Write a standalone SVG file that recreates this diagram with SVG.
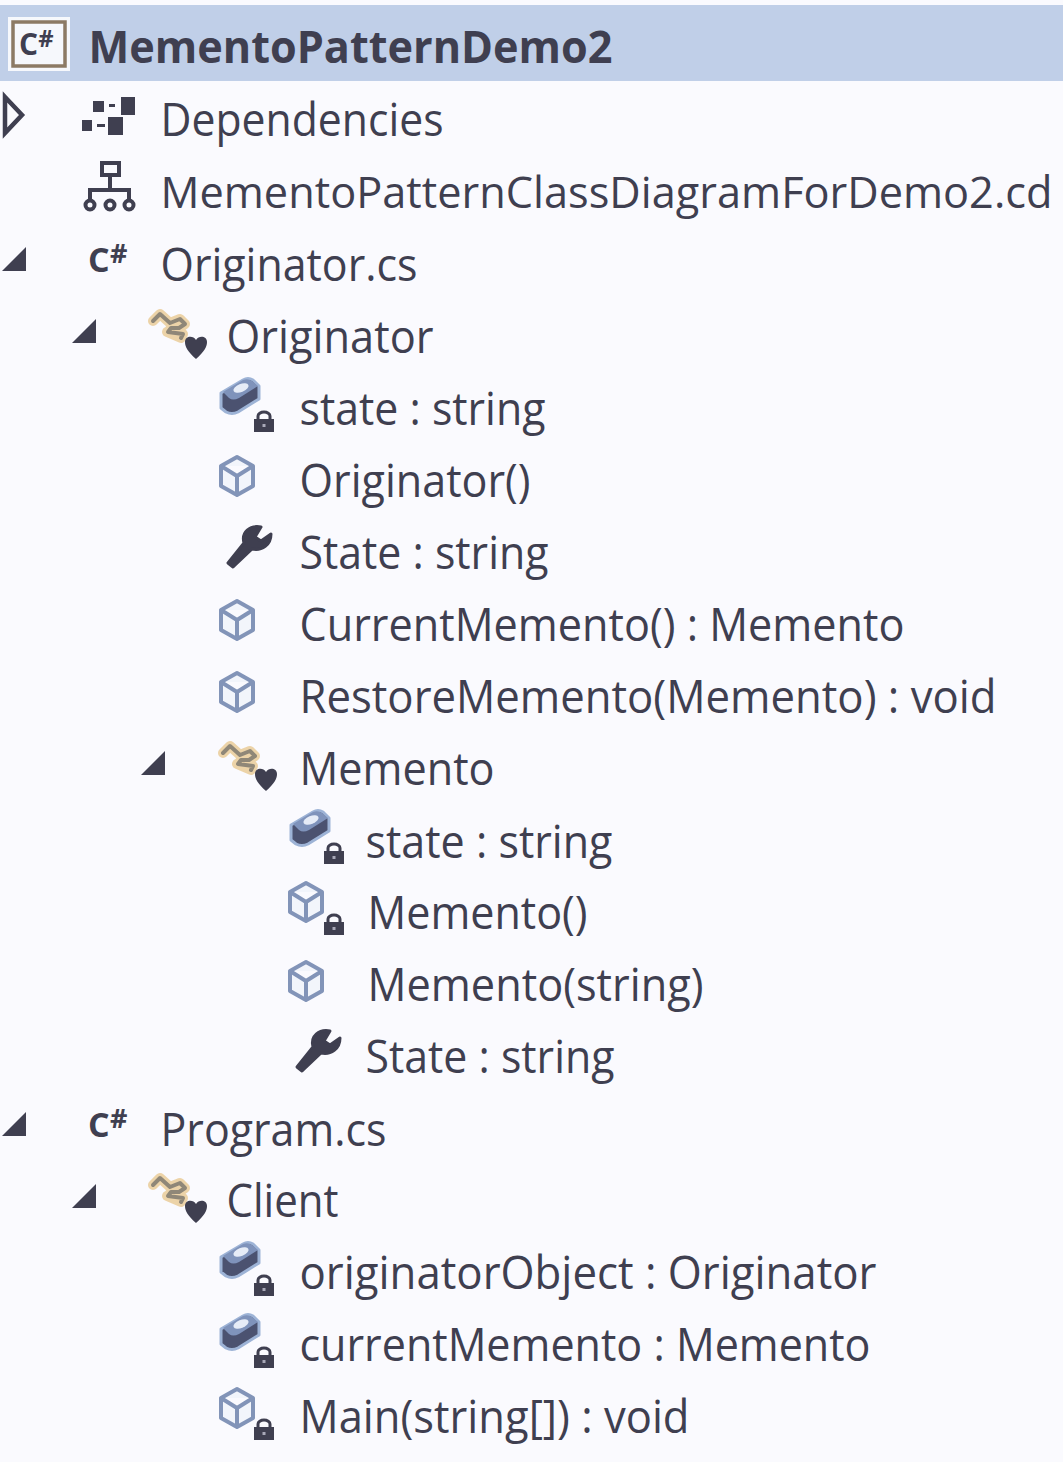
<svg xmlns="http://www.w3.org/2000/svg" width="1063" height="1462" viewBox="0 0 1063 1462">
<style>
text{font-family:"Open Sans","Noto Sans","Liberation Sans",sans-serif;font-size:45px;fill:#3f3f50;transform:translate(-1.5px,.2px)}
.b{font-weight:700;font-size:44px}
.ic{font-weight:700;transform:none}
.d{fill:#3f3f50}
</style>
<defs>
<path id="open" d="M4 -15 L21 3 L4 21 Z" fill="none" stroke="#3f3f50" stroke-width="4.5"/>
<path id="exp" d="M3 11 L27 -13 V11 Z" class="d"/>
<g id="cs"><text class="ic" x="0" y="0" style="font-size:34px">C</text><text class="ic" x="22" y="-9" style="font-size:27px">#</text></g>
<g id="cls">
<path d="M6 -14 L13 -21 L23 -12 L33 -16 L38 -11 L32 -7 L24 -7 L21 -3 L36 -1 L34 3 L20 -3" fill="none" stroke="#ecd3a8" stroke-width="10" stroke-linejoin="round" stroke-linecap="round"/>
<path d="M6 -14 L13 -21 L23 -12 L33 -16 L38 -11 L32 -7 L24 -7 L21 -3 L36 -1 L34 3" fill="none" stroke="#8f8778" stroke-width="4" stroke-linejoin="round" stroke-linecap="round"/>
<path d="M49 24 C41 17 38 12 38 7 C38 1 46 0 49 5 C52 0 60 1 60 7 C60 12 57 17 49 24 Z" class="d"/>
</g>
<g id="lock"><rect x="-10" y="-4" width="20" height="13" class="d"/><path d="M-6 -4 V-7 A6 4 0 0 1 6 -7 V-4" fill="none" stroke="#3f3f50" stroke-width="3"/><rect x="-1.5" y="1" width="3" height="3" fill="#a9a9b8"/></g>
<g id="fld">
<path d="M0 -15 L22 -28 Q27 -31 32 -28 L38 -22 V-9 L17 4 Q11 7 5 4 L0 0 Z" fill="#4b5270" stroke="#9db3d6" stroke-width="3" stroke-linejoin="round"/>
<path d="M2 -16 L22 -28 Q27 -30 31 -27 L37 -22 L18 -10 Q12 -7 8 -10 Z" fill="#7f93bb"/>
<ellipse cx="20" cy="-20" rx="8" ry="4" fill="#e6ecf7" transform="rotate(-22 20 -20)"/>
</g>
<path id="mth" d="M18 -19 L34 -10 V10 L18 19 L2 10 V-10 Z M2 -10 L18 0 L34 -10 M18 0 V19" fill="#f2f5fb" stroke="#8294b8" stroke-width="4" stroke-linejoin="round"/>
<path id="wr" d="M0 16 L5 20 L24 2 C34 4 43 -2 43 -13 L33 -6 L27 -10 L33 -20 C22 -22 13 -15 16 -4 Z" class="d" stroke="#3f3f50" stroke-width="3" stroke-linejoin="round"/>
</defs>
<rect width="1063" height="1462" fill="#fafafe"/>
<g id="root"><rect x="0" y="5" width="1063" height="76" fill="#c0cfe8"/>
<rect x="8" y="17" width="62" height="54" fill="#f6f8fc"/>
<rect x="13" y="22" width="52" height="44" fill="#f6f8fc" stroke="#8c7a64" stroke-width="3.5"/>
<g transform="translate(19,55) scale(.88)"><use href="#cs"/></g>
<text class="b" x="90" y="63" textLength="524" lengthAdjust="spacingAndGlyphs">MementoPatternDemo2</text></g>
<g id="deps"><use href="#open" x="1" y="112"/>
<g class="d"><rect x="93" y="101" width="11" height="11"/><rect x="121" y="97" width="14" height="18"/><rect x="82" y="120" width="10" height="11"/><rect x="108" y="117" width="15" height="18"/><rect x="109" y="104" width="6" height="3"/><rect x="97" y="124" width="8" height="3"/></g>
<text x="162" y="136" textLength="283" lengthAdjust="spacingAndGlyphs">Dependencies</text></g>
<g id="cd"><path d="M102 163 H119 V175 H102 Z M110 175 V190 M90 200 V190 H129 V200" fill="none" stroke="#3f3f50" stroke-width="4"/>
<g fill="none" stroke="#3f3f50" stroke-width="4"><circle cx="90" cy="205" r="4.5"/><circle cx="110" cy="205" r="4.5"/><circle cx="129" cy="205" r="4.5"/></g>
<text x="162" y="208" textLength="892" lengthAdjust="spacingAndGlyphs" style="font-size:43.5px">MementoPatternClassDiagramForDemo2.cd</text></g>
<g id="originator-cs"><use href="#exp" x="-1" y="260"/><use href="#cs" x="88" y="272"/>
<text x="162" y="281" textLength="257" lengthAdjust="spacingAndGlyphs">Originator.cs</text></g>
<g id="originator"><use href="#exp" x="69" y="332"/><use href="#cls" x="147" y="335"/>
<text x="228" y="353" textLength="207" lengthAdjust="spacingAndGlyphs">Originator</text></g>
<g id="orig-state-field"><use href="#fld" x="221" y="408"/><use href="#lock" x="264" y="423"/>
<text x="301" y="425" textLength="246" lengthAdjust="spacingAndGlyphs">state : string</text></g>
<g id="orig-ctor"><use href="#mth" x="219" y="476"/>
<text x="301" y="497" textLength="231" lengthAdjust="spacingAndGlyphs">Originator()</text></g>
<g id="orig-state-prop"><use href="#wr" x="228" y="547"/>
<text x="301" y="569" textLength="249" lengthAdjust="spacingAndGlyphs">State : string</text></g>
<g id="current-memento"><use href="#mth" x="219" y="620"/>
<text x="301" y="641" textLength="605" lengthAdjust="spacingAndGlyphs">CurrentMemento() : Memento</text></g>
<g id="restore-memento"><use href="#mth" x="219" y="692"/>
<text x="301" y="713" textLength="697" lengthAdjust="spacingAndGlyphs">RestoreMemento(Memento) : void</text></g>
<g id="memento"><use href="#exp" x="138" y="764"/><use href="#cls" x="217" y="767"/>
<text x="301" y="785" textLength="195" lengthAdjust="spacingAndGlyphs">Memento</text></g>
<g id="mem-state-field"><use href="#fld" x="291" y="840"/><use href="#lock" x="334" y="855"/>
<text x="367" y="858" textLength="247" lengthAdjust="spacingAndGlyphs">state : string</text></g>
<g id="mem-ctor"><use href="#mth" x="288" y="902"/><use href="#lock" x="334" y="926"/>
<text x="369" y="929" textLength="220" lengthAdjust="spacingAndGlyphs">Memento()</text></g>
<g id="mem-ctor-string"><use href="#mth" x="288" y="981"/>
<text x="369" y="1001" textLength="336" lengthAdjust="spacingAndGlyphs">Memento(string)</text></g>
<g id="mem-state-prop"><use href="#wr" x="297" y="1051"/>
<text x="367" y="1073" textLength="249" lengthAdjust="spacingAndGlyphs">State : string</text></g>
<g id="program-cs"><use href="#exp" x="-1" y="1125"/><use href="#cs" x="88" y="1137"/>
<text x="162" y="1146" textLength="226" lengthAdjust="spacingAndGlyphs">Program.cs</text></g>
<g id="client"><use href="#exp" x="69" y="1197"/><use href="#cls" x="147" y="1199"/>
<text x="228" y="1217" textLength="112" lengthAdjust="spacingAndGlyphs">Client</text></g>
<g id="originator-object"><use href="#fld" x="221" y="1272"/><use href="#lock" x="264" y="1287"/>
<text x="301" y="1289" textLength="577" lengthAdjust="spacingAndGlyphs">originatorObject : Originator</text></g>
<g id="current-memento-field"><use href="#fld" x="221" y="1344"/><use href="#lock" x="264" y="1359"/>
<text x="301" y="1361" textLength="571" lengthAdjust="spacingAndGlyphs">currentMemento : Memento</text></g>
<g id="main"><use href="#mth" x="219" y="1408"/><use href="#lock" x="264" y="1431"/>
<text x="301" y="1433" textLength="390" lengthAdjust="spacingAndGlyphs">Main(string[]) : void</text></g>
<g id="connectors"/>
</svg>
